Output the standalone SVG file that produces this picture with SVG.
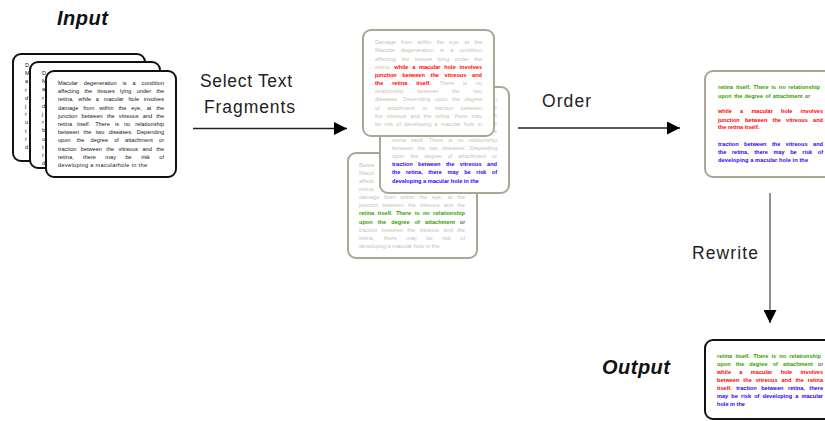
<svg xmlns="http://www.w3.org/2000/svg" width="825" height="421" viewBox="0 0 825 421">
  <style>
    .card { fill: #ffffff; stroke: #111111; stroke-width: 2; }
    .gcard { fill: #ffffff; stroke: #aaa698; stroke-width: 2; }
    .t { font-family: "Liberation Sans", Arial, sans-serif; font-size: 5.6px; }
    .k { fill: #161616; }
    .gy { fill: #c6c2b6; }
    .r { fill: #ff0000; font-weight: bold; }
    .b { fill: #2a00ff; font-weight: bold; }
    .gn { fill: #3a9c00; font-weight: bold; }
    .lbl { font-family: "Liberation Sans", Arial, sans-serif; font-size: 17.5px; fill: #222222; }
    .head { font-family: "Liberation Sans", Arial, sans-serif; font-size: 20px; font-weight: bold; font-style: italic; fill: #111111; }
    .wire { stroke: #222222; stroke-width: 1.5; fill: none; }
    .wire.soft { stroke: #6a6a6a; }
  </style>
  <defs>
    <marker id="tip" viewBox="0 0 13 13" refX="13" refY="6.5" markerWidth="13" markerHeight="13" markerUnits="userSpaceOnUse" orient="auto">
      <path d="M0,0 L13,6.5 L0,13 Z" fill="#000000"/>
    </marker>
  </defs>

  <rect width="825" height="421" fill="#ffffff"/>

  <!-- Section headings -->
  <g id="headings">
    <text class="head" x="57" y="25" textLength="51">Input</text>
    <text class="head" x="602" y="374" textLength="68">Output</text>
  </g>

  <!-- Input documents: three stacked pages -->
  <g id="input-stack">
    <g id="input-page-3">
      <rect class="card" x="13" y="54" width="132" height="107" rx="8"/>
      <g class="t k">
        <text x="25" y="67">D</text>
        <text x="25" y="75.2">M</text>
        <text x="25" y="83.4">a</text>
        <text x="25" y="91.6">r</text>
        <text x="25" y="99.8">d</text>
        <text x="25" y="108">j</text>
        <text x="25" y="116.2">r</text>
        <text x="25" y="124.4">u</text>
        <text x="25" y="132.6">t</text>
        <text x="25" y="140.8">r</text>
        <text x="25" y="149">d</text>
      </g>
    </g>
    <g id="input-page-2">
      <rect class="card" x="30" y="62" width="130" height="106" rx="8"/>
      <g class="t k">
        <text x="42" y="75">D</text>
        <text x="42" y="83.2">M</text>
        <text x="42" y="91.4">a</text>
        <text x="42" y="99.6">r</text>
        <text x="42" y="107.8">d</text>
        <text x="42" y="116">j</text>
        <text x="42" y="124.2">r</text>
        <text x="42" y="132.4">b</text>
        <text x="42" y="140.6">u</text>
        <text x="42" y="148.8">t</text>
        <text x="42" y="157">r</text>
        <text x="42" y="165.2">d</text>
      </g>
    </g>
    <g id="input-page-1">
      <rect class="card" x="46" y="71" width="130" height="106" rx="8"/>
      <g class="t k">
        <text x="58" y="85" word-spacing="4.4" textLength="106" lengthAdjust="spacing">Macular degeneration is a condition</text>
        <text x="58" y="93.2" word-spacing="3.6" textLength="106" lengthAdjust="spacing">affecting the tissues lying under the</text>
        <text x="58" y="101.4" word-spacing="3.2" textLength="106" lengthAdjust="spacing">retina, while a macular hole involves</text>
        <text x="58" y="109.6" word-spacing="3.3" textLength="106" lengthAdjust="spacing">damage from within the eye, at the</text>
        <text x="58" y="117.8" word-spacing="2.6" textLength="106" lengthAdjust="spacing">junction between the vitreous and the</text>
        <text x="58" y="126" word-spacing="3.5" textLength="106" lengthAdjust="spacing">retina itself. There is no relationship</text>
        <text x="58" y="134.2" word-spacing="2.8" textLength="106" lengthAdjust="spacing">between the two diseases. Depending</text>
        <text x="58" y="142.4" word-spacing="4.6" textLength="106" lengthAdjust="spacing">upon the degree of attachment or</text>
        <text x="58" y="150.6" word-spacing="2.8" textLength="106" lengthAdjust="spacing">traction between the vitreous and the</text>
        <text x="58" y="158.8" word-spacing="7.9" textLength="106" lengthAdjust="spacing">retina, there may be risk of</text>
        <text x="58" y="167" textLength="89" lengthAdjust="spacing">developing a macularhole in the</text>
      </g>
    </g>
  </g>

  <!-- Selected fragments: three faded pages with highlighted spans -->
  <g id="fragment-stack">
    <g id="fragment-page-green">
      <rect class="gcard" x="348" y="153" width="129" height="105" rx="8"/>
      <g class="t gy">
        <text x="359" y="166.5">Betwe</text>
        <text x="359" y="174.6">Macul</text>
        <text x="359" y="182.8">affecti</text>
        <text x="359" y="190.9">retina,</text>
        <text x="359" y="199" word-spacing="3.3" textLength="106" lengthAdjust="spacing">damage from within the eye, at the</text>
        <text x="359" y="207.2" word-spacing="2.6" textLength="106" lengthAdjust="spacing">junction between the vitreous and the</text>
        <text x="359" y="215.3" word-spacing="2" textLength="106" lengthAdjust="spacing"><tspan class="gn">retina itself. There is no relationship</tspan></text>
        <text x="359" y="223.5" word-spacing="3.5" textLength="106" lengthAdjust="spacing"><tspan class="gn">upon the degree of attachment</tspan> <tspan class="k">or</tspan></text>
        <text x="359" y="231.6" word-spacing="2.8" textLength="106" lengthAdjust="spacing">traction between the vitreous and the</text>
        <text x="359" y="239.8" word-spacing="8" textLength="106" lengthAdjust="spacing">retina, there may be risk of</text>
        <text x="359" y="247.9">developing a macular hole in the</text>
      </g>
    </g>
    <g id="fragment-page-blue">
      <rect class="gcard" x="380" y="87" width="129" height="106" rx="8"/>
      <g class="t gy">
        <text x="497" y="100.5" text-anchor="end">n</text>
        <text x="497" y="108.7" text-anchor="end">e</text>
        <text x="497" y="116.9" text-anchor="end">s</text>
        <text x="497" y="125.1" text-anchor="end">e</text>
        <text x="497" y="133.3" text-anchor="end">e</text>
        <text x="392" y="141.5" word-spacing="3.3" textLength="105" lengthAdjust="spacing">retina itself. There is no relationship</text>
        <text x="392" y="149.7" word-spacing="2.6" textLength="105" lengthAdjust="spacing">between the two diseases. Depending</text>
        <text x="392" y="157.9" word-spacing="4.4" textLength="105" lengthAdjust="spacing">upon the degree of attachment or</text>
        <text x="392" y="166.1" word-spacing="3.9" textLength="105" lengthAdjust="spacing"><tspan class="b">traction between the vitreous and</tspan></text>
        <text x="392" y="174.3" word-spacing="4" textLength="105" lengthAdjust="spacing"><tspan class="b">the retina, there may be risk of</tspan></text>
        <text x="392" y="182.5"><tspan class="b">developing a macular hole in the</tspan></text>
      </g>
    </g>
    <g id="fragment-page-red">
      <rect class="gcard" x="363" y="30" width="131" height="106" rx="8"/>
      <g class="t gy">
        <text x="375" y="44.2" word-spacing="3.4" textLength="107" lengthAdjust="spacing">Damage from within the eye, at the</text>
        <text x="375" y="52.4" word-spacing="4.6" textLength="107" lengthAdjust="spacing">Macular degeneration is a condition</text>
        <text x="375" y="60.5" word-spacing="3.8" textLength="107" lengthAdjust="spacing">affecting the tissues lying under the</text>
        <text x="375" y="68.7" word-spacing="2.2" textLength="107" lengthAdjust="spacing">retina, <tspan class="r">while a macular hole involves</tspan></text>
        <text x="375" y="76.8" word-spacing="4.1" textLength="107" lengthAdjust="spacing"><tspan class="r">junction between the vitreous and</tspan></text>
        <text x="375" y="85" word-spacing="7.2" textLength="107" lengthAdjust="spacing"><tspan class="r">the retina itself.</tspan> There is no</text>
        <text x="375" y="93.2" word-spacing="12" textLength="107" lengthAdjust="spacing">relationship between the two</text>
        <text x="375" y="101.3" word-spacing="3.1" textLength="107" lengthAdjust="spacing">diseases. Depending upon the degree</text>
        <text x="375" y="109.5" word-spacing="6" textLength="107" lengthAdjust="spacing">of attachment or traction between</text>
        <text x="375" y="117.6" word-spacing="2.4" textLength="107" lengthAdjust="spacing">the vitreous and the retina, there may</text>
        <text x="375" y="125.8" word-spacing="1.6" textLength="107" lengthAdjust="spacing">be risk of developing a macular hole in</text>
      </g>
    </g>
  </g>

  <!-- Ordered fragments -->
  <g id="ordered">
    <rect class="gcard" x="705" y="71" width="130" height="106" rx="8"/>
    <g class="t">
      <text x="718" y="89.2" word-spacing="1.2" textLength="102" lengthAdjust="spacing"><tspan class="gn">retina itself. There is no relationship</tspan></text>
      <text x="718" y="97.5" word-spacing="0.7" textLength="92" lengthAdjust="spacing"><tspan class="gn">upon the degree of attachment</tspan> <tspan class="k">or</tspan></text>
      <text x="718" y="113.2" word-spacing="6.6" textLength="105" lengthAdjust="spacing"><tspan class="r">while a macular hole involves</tspan></text>
      <text x="718" y="121.5" word-spacing="3.6" textLength="105" lengthAdjust="spacing"><tspan class="r">junction between the vitreous and</tspan></text>
      <text x="718" y="129.2"><tspan class="r">the retina itself.</tspan></text>
      <text x="718" y="145.8" word-spacing="3.9" textLength="105" lengthAdjust="spacing"><tspan class="b">traction between the vitreous and</tspan></text>
      <text x="718" y="154.2" word-spacing="4" textLength="105" lengthAdjust="spacing"><tspan class="b">the retina, there may be risk of</tspan></text>
      <text x="718" y="162.2" textLength="90" lengthAdjust="spacing"><tspan class="b">developing a macular hole in the</tspan></text>
    </g>
  </g>

  <!-- Rewritten output -->
  <g id="output">
    <rect class="card" x="705" y="340" width="130" height="79" rx="8"/>
    <g class="t">
      <text x="717" y="357.5" word-spacing="1.6" textLength="104" lengthAdjust="spacing"><tspan class="gn">retina itself. There is no relationship</tspan></text>
      <text x="717" y="365.8" word-spacing="3.5" textLength="106" lengthAdjust="spacing"><tspan class="gn">upon the degree of attachment</tspan> <tspan class="k">or</tspan></text>
      <text x="717" y="374" word-spacing="6.8" textLength="106" lengthAdjust="spacing"><tspan class="r">while a macular hole involves</tspan></text>
      <text x="717" y="382.1" word-spacing="2.4" textLength="106" lengthAdjust="spacing"><tspan class="r">between the vitreous and the retina</tspan></text>
      <text x="717" y="390.2" word-spacing="3" textLength="106" lengthAdjust="spacing"><tspan class="r">itself.</tspan> <tspan class="b">traction between retina, there</tspan></text>
      <text x="717" y="398.3" word-spacing="1.6" textLength="106" lengthAdjust="spacing"><tspan class="b">may be risk of developing a macular</tspan></text>
      <text x="717" y="406.2"><tspan class="b">hole in the</tspan></text>
    </g>
  </g>

  <!-- Connectors between stages -->
  <g id="connectors">
    <line class="wire" x1="193" y1="128.5" x2="347" y2="128.5" marker-end="url(#tip)"/>
    <line class="wire" x1="518" y1="128" x2="680" y2="128" marker-end="url(#tip)"/>
    <line class="wire soft" x1="770" y1="193" x2="770" y2="323" marker-end="url(#tip)"/>
    <text class="lbl" x="200" y="87" textLength="92">Select Text</text>
    <text class="lbl" x="204" y="113" textLength="91">Fragments</text>
    <text class="lbl" x="542" y="107" textLength="49">Order</text>
    <text class="lbl" x="692" y="259" textLength="66">Rewrite</text>
  </g>
</svg>
